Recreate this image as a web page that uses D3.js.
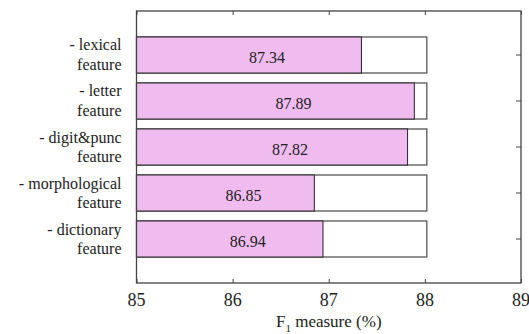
<!DOCTYPE html>
<html>
<head>
<meta charset="utf-8">
<script src="https://cdn.jsdelivr.net/npm/d3@7"></script>
</head>
<body style="margin:0">
<svg id="chart" width="529" height="334"></svg>
<script>
// Ablation results: F1 after removing each feature group
const categories = [
  "- lexical|feature",
  "- letter|feature",
  "- digit&punc|feature",
  "- morphological|feature",
  "- dictionary|feature"
];
const values = [87.34, 87.89, 87.82, 86.85, 86.94];
// F1 with all features, drawn as the outlined reference box
const fullScore = [88.02, 88.02, 88.02, 88.02, 88.02];
const xTicks = [85, 86, 87, 88, 89];
const xDomain = [85, 89];
const xTitle = "F";
const xTitleSub = "1";
const xTitleRest = " measure (%)";

const ink = "#222";
const svg = d3.select("#chart");
const plotL = 136.5, plotR = 521, plotT = 11, plotB = 283;

const x = d3.scaleLinear().domain(xDomain).range([plotL, plotR]);
const y = d3.scaleBand().domain(categories).range([plotT, plotB])
  .paddingInner(0.217).paddingOuter(0.565);

const rows = categories.map((c, i) => ({ c, v: values[i], full: fullScore[i] }));

// bars and frame
const marks = svg.append("g");
const labels = svg.append("g").attr("font-family", "serif");

// outlined boxes up to the full-feature score
marks.append("g").selectAll("rect").data(rows).join("rect")
  .attr("x", x(85))
  .attr("y", d => y(d.c))
  .attr("width", d => x(d.full) - x(85))
  .attr("height", y.bandwidth())
  .attr("fill", "#fff")
  .attr("stroke", "#555")
  .attr("stroke-width", 1.3);

// filled bars for each ablated score
marks.append("g").selectAll("rect").data(rows).join("rect")
  .attr("x", x(85))
  .attr("y", d => y(d.c))
  .attr("width", d => x(d.v) - x(85))
  .attr("height", y.bandwidth())
  .attr("fill", "#f0bcf0")
  .attr("stroke", "#222")
  .attr("stroke-width", 1);

// plot frame
marks.append("rect")
  .attr("x", plotL).attr("y", plotT)
  .attr("width", plotR - plotL).attr("height", plotB - plotT)
  .attr("fill", "none").attr("stroke", "#444").attr("stroke-width", 1.3);

// inward ticks on all four sides
function ticksOnly(axis, tx, ty) {
  const g = marks.append("g").attr("transform", `translate(${tx},${ty})`).call(axis);
  g.select(".domain").remove();
  g.selectAll(".tick text").remove();
  g.selectAll(".tick line").attr("stroke", "#444");
}
ticksOnly(d3.axisRight(y).tickSize(-5).tickSizeOuter(0), plotR, 0);
ticksOnly(d3.axisTop(x).tickValues(xTicks).tickSize(-4).tickSizeOuter(0), 0, plotT);
ticksOnly(d3.axisBottom(x).tickValues(xTicks).tickSize(-4).tickSizeOuter(0), 0, plotB);

// x tick labels
labels.append("g").selectAll("text").data(xTicks).join("text")
  .attr("x", d => x(d))
  .attr("y", plotB + 23)
  .attr("text-anchor", "middle")
  .attr("fill", ink)
  .style("font-family", "serif")
  .style("font-size", "18px")
  .text(d => d);

// two-line category labels
const cat = labels.append("g").selectAll("text").data(categories).join("text")
  .attr("text-anchor", "end")
  .attr("fill", ink)
  .style("font-family", "serif")
  .style("font-size", "16px");
cat.append("tspan").attr("x", plotL - 15).attr("y", d => y(d) + y.bandwidth() / 2 - 4.5)
  .text(d => d.split("|")[0]);
cat.append("tspan").attr("x", plotL - 15).attr("y", d => y(d) + y.bandwidth() / 2 + 15)
  .text(d => d.split("|")[1]);

// value labels, starting at the bar midpoint
labels.append("g").selectAll("text").data(rows).join("text")
  .attr("x", d => (x(85) + x(d.v)) / 2)
  .attr("y", d => y(d.c) + y.bandwidth() / 2 + 7.7)
  .attr("text-anchor", "start")
  .attr("fill", ink)
  .style("font-family", "serif")
  .style("font-size", "16px")
  .text(d => d.v.toFixed(2));

// x-axis title with subscript
const title = labels.append("text")
  .attr("x", (plotL + plotR) / 2).attr("y", 326.5)
  .attr("text-anchor", "middle")
  .attr("fill", ink)
  .style("font-family", "serif")
  .style("font-size", "17px");
title.append("tspan").text(xTitle);
title.append("tspan").attr("dy", 5).style("font-size", "11px").text(xTitleSub);
title.append("tspan").attr("dy", -5).text(xTitleRest);
</script>
</body>
</html>
